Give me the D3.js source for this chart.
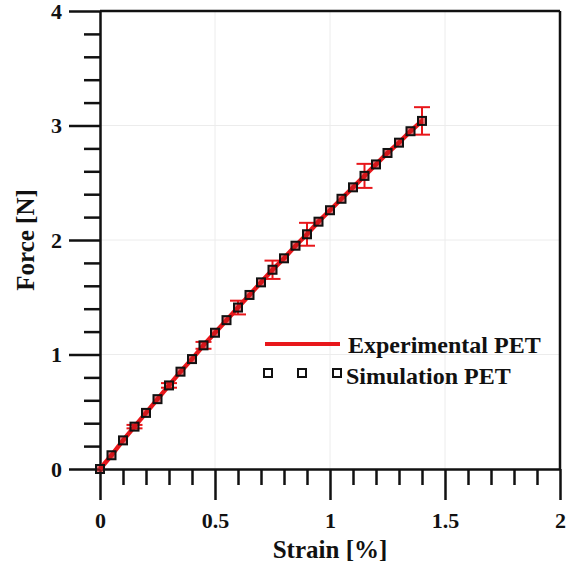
<!DOCTYPE html>
<html>
<head>
<meta charset="utf-8">
<script src="https://cdn.jsdelivr.net/npm/d3@7"></script>
<style>
  body { margin: 0; background: #fff; }
  text { font-family: "Liberation Serif", "Times New Roman", serif; font-weight: bold; fill: #111; }
</style>
</head>
<body>
<div id="chart"></div>
<script>
// data
var strain = [0, 0.05, 0.1, 0.15, 0.2, 0.25, 0.3, 0.35, 0.4, 0.45, 0.5, 0.55, 0.6, 0.65, 0.7,
              0.75, 0.8, 0.85, 0.9, 0.95, 1.0, 1.05, 1.1, 1.15, 1.2, 1.25, 1.3, 1.35, 1.4];
var expForce = [0, 0.12, 0.25, 0.37, 0.49, 0.61, 0.73, 0.85, 0.96, 1.08, 1.19, 1.30, 1.41, 1.52, 1.63,
                1.74, 1.84, 1.95, 2.05, 2.16, 2.26, 2.36, 2.46, 2.56, 2.66, 2.76, 2.85, 2.95, 3.04];
var simForce = [0, 0.12, 0.25, 0.37, 0.49, 0.61, 0.73, 0.85, 0.96, 1.08, 1.19, 1.30, 1.41, 1.52, 1.63,
                1.74, 1.84, 1.95, 2.05, 2.16, 2.26, 2.36, 2.46, 2.56, 2.66, 2.76, 2.85, 2.95, 3.04];
var errStrain = [0.15, 0.3, 0.45, 0.6, 0.75, 0.9, 1.15, 1.4];
var errForce = [0.37, 0.73, 1.08, 1.41, 1.74, 2.05, 2.56, 3.04];
var errSize = [0.015, 0.02, 0.03, 0.06, 0.08, 0.10, 0.105, 0.12];
var xTicks = [0, 0.5, 1, 1.5, 2];
var yTicks = [0, 1, 2, 3, 4];
var seriesNames = ["Experimental PET", "Simulation PET"];

var width = 582, height = 569;
var marginLeft = 100, marginRight = 22, marginTop = 11, marginBottom = 100;

var svg = d3.select("#chart").append("svg")
    .attr("width", width)
    .attr("height", height);

var xScale = d3.scaleLinear().domain([0, 2]).range([marginLeft, width - marginRight]);
var yScale = d3.scaleLinear().domain([0, 4]).range([height - marginBottom, marginTop]);

// faint grid
svg.append("g").selectAll("line.gx")
    .data(xTicks.slice(1, -1)).enter().append("line")
    .attr("x1", d => xScale(d)).attr("x2", d => xScale(d))
    .attr("y1", yScale(0)).attr("y2", yScale(4))
    .attr("stroke", "#ececec").attr("stroke-width", 1);
svg.append("g").selectAll("line.gy")
    .data(yTicks.slice(1, -1)).enter().append("line")
    .attr("x1", xScale(0)).attr("x2", xScale(2))
    .attr("y1", d => yScale(d)).attr("y2", d => yScale(d))
    .attr("stroke", "#ececec").attr("stroke-width", 1);

// minor ticks
var xMinor = d3.range(0, 2.001, 0.1).filter(v => Math.abs(v * 2 - Math.round(v * 2)) > 1e-6);
var yMinor = d3.range(0, 4.001, 0.2).filter(v => Math.abs(v - Math.round(v)) > 1e-6);

var axisStyle = function(g) {
    g.selectAll("path, line").attr("stroke", "#111").attr("stroke-width", 2.5);
    g.selectAll("text").style("font-size", "22px");
};

svg.append("g")
    .attr("transform", "translate(0," + yScale(0) + ")")
    .call(d3.axisBottom(xScale).tickValues(xMinor).tickSize(16).tickSizeOuter(0).tickFormat(""))
    .call(axisStyle);
svg.append("g")
    .attr("transform", "translate(0," + yScale(0) + ")")
    .call(d3.axisBottom(xScale).tickValues(xTicks).tickSize(31).tickSizeOuter(0).tickPadding(12)
        .tickFormat(d => d))
    .call(axisStyle)
    .call(g => g.select(".domain").remove());

svg.append("g")
    .attr("transform", "translate(" + xScale(0) + ",0)")
    .call(d3.axisLeft(yScale).tickValues(yMinor).tickSize(16).tickSizeOuter(0).tickFormat(""))
    .call(axisStyle);
svg.append("g")
    .attr("transform", "translate(" + xScale(0) + ",0)")
    .call(d3.axisLeft(yScale).tickValues(yTicks).tickSize(31).tickSizeOuter(0).tickPadding(7)
        .tickFormat(d => d))
    .call(axisStyle)
    .call(g => g.select(".domain").remove());

// top and right frame
svg.append("line")
    .attr("x1", xScale(0)).attr("x2", xScale(2))
    .attr("y1", yScale(4)).attr("y2", yScale(4))
    .attr("stroke", "#111").attr("stroke-width", 2.5);
svg.append("line")
    .attr("x1", xScale(2)).attr("x2", xScale(2))
    .attr("y1", yScale(4)).attr("y2", yScale(0))
    .attr("stroke", "#111").attr("stroke-width", 2.5);

// axis titles
svg.append("text")
    .attr("x", xScale(1)).attr("y", 558)
    .attr("text-anchor", "middle")
    .style("font-size", "25px")
    .text("Strain [%]");
svg.append("text")
    .attr("transform", "translate(34," + yScale(2) + ") rotate(-90)")
    .attr("text-anchor", "middle")
    .style("font-size", "25px")
    .text("Force [N]");

// experimental line
var line = d3.line()
    .x((d, i) => xScale(strain[i]))
    .y(d => yScale(d));
svg.append("path")
    .datum(expForce)
    .attr("d", line)
    .attr("fill", "none")
    .attr("stroke", "#e8171b")
    .attr("stroke-width", 4.5);

// error bars
var eb = svg.append("g").attr("stroke", "#e8171b").attr("stroke-width", 2);
errStrain.forEach(function(s, i) {
    var x = xScale(s), y0 = yScale(errForce[i] - errSize[i]), y1 = yScale(errForce[i] + errSize[i]);
    eb.append("line").attr("x1", x).attr("x2", x).attr("y1", y0).attr("y2", y1);
    eb.append("line").attr("x1", x - 8).attr("x2", x + 8).attr("y1", y0).attr("y2", y0);
    eb.append("line").attr("x1", x - 8).attr("x2", x + 8).attr("y1", y1).attr("y2", y1);
});

// simulation markers
svg.append("g").selectAll("rect")
    .data(simForce).enter().append("rect")
    .attr("x", (d, i) => xScale(strain[i]) - 4)
    .attr("y", d => yScale(d) - 4)
    .attr("width", 8).attr("height", 8)
    .attr("fill", "#c4161a")
    .attr("fill-opacity", 0.6)
    .attr("stroke", "#111")
    .attr("stroke-width", 2);

// legend
var legend = svg.append("g");
legend.append("line")
    .attr("x1", 265).attr("x2", 340).attr("y1", 344).attr("y2", 344)
    .attr("stroke", "#e8171b").attr("stroke-width", 4);
legend.append("text").attr("x", 348).attr("y", 353)
    .style("font-size", "24px").text(seriesNames[0]);
legend.selectAll("rect").data([268, 302, 337]).enter().append("rect")
    .attr("x", d => d - 4).attr("y", 369).attr("width", 8).attr("height", 8)
    .attr("fill", "none").attr("stroke", "#111").attr("stroke-width", 2);
legend.append("text").attr("x", 346).attr("y", 384)
    .style("font-size", "24px").text(seriesNames[1]);
</script>
</body>
</html>
